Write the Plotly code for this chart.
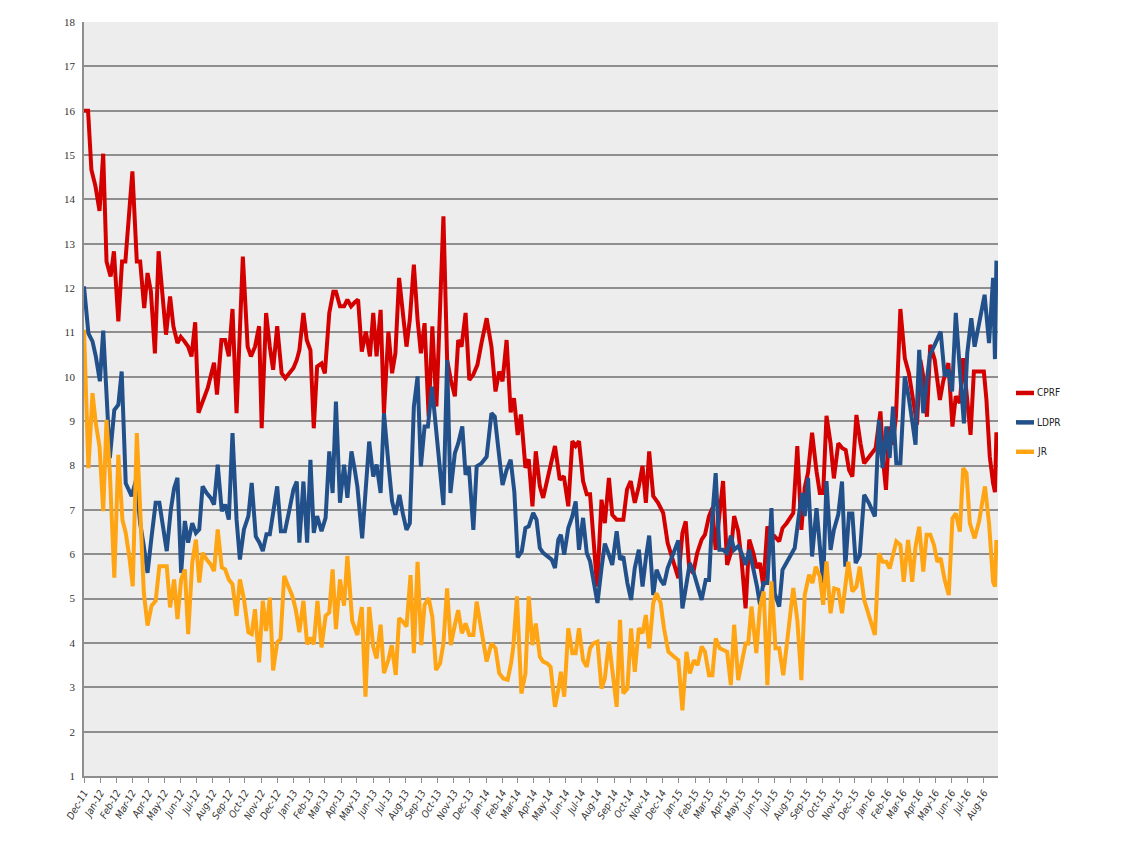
import numpy as np
import pandas as pd
import plotly.graph_objects as go

# Weekly poll series, Dec-2011 .. Aug-2016. x = weeks since the first poll.
START = pd.Timestamp("2011-12-01")

cprf_week = [0, 1.1, 2.0, 3.1, 4.2, 5.2, 6.1, 7.2, 8.1, 9.3, 10.3, 11.2, 13.1, 14.3, 15.2, 16.3, 17.2, 18.1, 19.2, 20.2,
             21.2, 22.2, 23.3, 24.2, 25.3, 26.2, 27.2, 28.2, 29.1, 30.1, 31.0, 33.5, 35.2, 36.0, 37.2, 38.2, 39.2, 40.2,
             41.3, 43.0, 44.3, 45.2, 46.3, 47.4, 48.1, 49.3, 50.3, 51.2, 52.3, 53.5, 54.5, 55.6, 56.7, 57.6, 58.3, 59.4,
             60.3, 61.3, 62.2, 63.1, 64.3, 65.2, 66.4, 67.5, 68.2, 69.3, 70.4, 71.3, 72.3, 73.3, 74.2, 75.2, 76.3, 77.4,
             78.3, 79.2, 80.3, 81.2, 82.4, 83.4, 84.3, 85.3, 86.3, 87.3, 88.2, 89.3, 90.3, 91.2, 92.2, 93.3, 94.3, 95.4,
             97.3, 98.3, 99.3, 100.4, 101.3, 102.2, 103.3, 104.3, 105.4, 106.5, 107.6, 109.0, 110.3, 111.4, 112.4,
             113.3, 114.4, 115.5, 116.4, 117.4, 118.3, 119.5, 120.4, 121.4, 122.3, 123.4, 124.3, 125.4, 127.5, 128.8,
             129.9, 131.1, 132.2, 133.1, 134.0, 135.1, 136.1, 137.0, 138.9, 140.1, 141.0, 142.1, 143.0, 144.2, 146.0,
             147.0, 148.0, 149.1, 150.2, 151.2, 152.1, 153.0, 154.1, 155.4, 156.8, 158.0, 159.6, 160.9, 162.0, 162.9,
             163.8, 164.9, 166.0, 167.2, 168.1, 169.2, 170.1, 171.0, 173.0, 174.1, 175.1, 176.0, 177.1, 178.0, 179.1,
             180.1, 181.2, 182.1, 183.0, 183.9, 185.0, 186.1, 187.0, 188.2, 189.1, 190.2, 192.0, 193.1, 194.2, 195.1,
             196.0, 197.1, 198.3, 199.2, 200.1, 201.0, 202.1, 203.0, 204.2, 205.3, 206.2, 207.1, 208.0, 209.1, 210.2,
             211.2, 212.3, 213.2, 214.3, 215.6, 216.4, 217.1, 218.0, 218.9, 219.8, 221.0, 222.2, 223.3, 224.5, 225.5,
             226.4, 227.3, 228.2, 229.1, 230.3, 231.7, 232.6, 234.0, 235.1, 236.0, 237.1, 238.0, 239.1, 240.0, 240.9,
             243.6, 244.3, 245.2, 246.1, 246.6, 247.0]
cprf = [16.0, 16.0, 14.67, 14.3, 13.74, 15.03, 12.6, 12.26, 12.83, 11.25, 12.6, 12.6, 14.63, 12.6, 12.6, 11.55, 12.34,
        11.93, 10.53, 12.83, 11.89, 10.95, 11.81, 11.14, 10.76, 10.9, 10.8, 10.68, 10.46, 11.23, 9.19, 9.75, 10.32, 9.6,
        10.83, 10.83, 10.46, 11.53, 9.18, 12.71, 10.68, 10.46, 10.68, 11.14, 8.84, 11.44, 10.68, 10.16, 11.14, 10.08,
        9.97, 10.08, 10.2, 10.38, 10.6, 11.44, 10.83, 10.6, 8.84, 10.23, 10.3, 10.08, 11.44, 11.92, 11.92, 11.59, 11.59,
        11.74, 11.59, 11.68, 11.74, 10.57, 11.02, 10.46, 11.44, 10.46, 11.51, 9.18, 11.02, 10.08, 10.53, 12.23, 11.51,
        10.68, 11.29, 12.53, 11.29, 10.53, 11.21, 9.1, 11.14, 9.33, 13.62, 10.38, 9.93, 9.56, 10.83, 10.68, 11.44, 9.93,
        10.05, 10.27, 10.76, 11.32, 10.68, 9.67, 10.12, 9.9, 10.83, 9.2, 9.52, 8.69, 9.15, 7.95, 8.14, 7.08, 8.32, 7.53,
        7.27, 7.68, 8.44, 7.68, 7.76, 7.08, 8.55, 8.44, 8.55, 7.65, 7.35, 7.35, 5.27, 7.23, 6.7, 7.72, 6.89, 6.78, 6.78,
        7.46, 7.65, 7.16, 7.53, 7.99, 7.16, 8.32, 7.31, 7.16, 6.93, 6.25, 5.8, 5.46, 6.48, 6.74, 5.72, 5.57, 6.03, 6.33,
        6.44, 6.86, 7.04, 6.1, 7.65, 5.76, 6.03, 6.86, 6.52, 5.88, 4.78, 6.33, 6.03, 5.69, 5.8, 5.27, 6.63, 6.33, 6.4,
        6.29, 6.59, 6.7, 6.93, 8.44, 6.55, 7.5, 7.84, 8.74, 7.87, 7.38, 7.38, 9.12, 8.5, 7.71, 8.5, 8.39, 8.35, 7.9,
        7.75, 9.14, 8.5, 8.05, 8.17, 8.28, 8.39, 9.22, 8.05, 7.45, 8.88, 8.47, 9.1, 11.53, 10.42, 10.08, 9.48, 8.92,
        10.38, 9.97, 9.1, 10.72, 10.38, 9.48, 9.9, 10.31, 8.88, 9.56, 9.41, 10.42, 9.48, 8.69, 10.12, 10.12, 9.48, 8.2,
        7.6, 7.4, 8.75]

ldpr_week = [0, 1.2, 2.3, 3.2, 4.3, 5.2, 7.0, 8.2, 9.3, 10.2, 11.3, 12.9, 14.1, 15.2, 16.2, 17.2, 18.3, 19.4, 20.4,
             21.5, 22.4, 23.5, 24.4, 25.3, 26.3, 27.3, 28.2, 29.3, 30.3, 31.2, 32.1, 33.2, 34.3, 35.2, 36.2, 37.3, 38.2,
             39.2, 40.2, 41.3, 42.2, 43.3, 44.5, 45.4, 46.5, 47.5, 48.4, 49.4, 50.3, 51.2, 52.3, 53.3, 54.4, 55.6, 56.7,
             57.6, 58.3, 59.4, 60.4, 61.3, 62.2, 63.1, 64.3, 65.4, 66.4, 67.3, 68.2, 69.3, 70.4, 71.3, 72.4, 73.3, 74.0,
             75.3, 76.3, 77.2, 78.3, 79.2, 80.3, 81.2, 82.4, 83.4, 84.3, 85.4, 86.3, 87.3, 88.2, 89.3, 90.3, 91.2, 92.2,
             93.1, 94.2, 95.3, 96.2, 97.3, 98.3, 99.2, 100.4, 101.3, 102.4, 103.3, 104.2, 105.4, 106.3, 107.6, 109.0,
             110.3, 111.2, 112.3, 113.3, 114.4, 115.5, 116.5, 117.4, 118.5, 119.5, 120.4, 121.6, 122.5, 123.4, 124.3,
             125.4, 126.6, 127.5, 128.4, 129.1, 130.0, 131.1, 132.2, 133.1, 134.0, 135.1, 136.1, 137.0, 138.0, 139.0,
             140.1, 141.0, 142.1, 143.0, 144.2, 145.1, 146.0, 147.1, 148.1, 149.1, 150.2, 151.2, 152.1, 153.0, 154.1,
             155.0, 156.1, 157.0, 158.0, 159.6, 160.9, 162.0, 163.1, 164.0, 165.1, 166.1, 167.2, 168.3, 169.2, 170.1,
             171.0, 172.0, 173.0, 174.1, 175.1, 176.0, 177.1, 178.0, 179.1, 180.1, 181.2, 182.2, 183.0, 183.9, 185.0,
             186.1, 187.0, 188.2, 189.1, 190.2, 191.3, 192.4, 193.5, 194.4, 195.1, 196.0, 197.1, 198.3, 199.2, 200.1,
             201.0, 202.1, 203.0, 204.2, 205.2, 206.1, 207.1, 208.0, 208.9, 210.0, 211.2, 212.5, 214.1, 215.2, 216.2,
             217.2, 218.1, 219.0, 219.9, 221.0, 222.2, 223.3, 224.3, 225.1, 226.1, 227.2, 228.1, 229.0, 230.3, 231.9,
             233.0, 233.9, 235.0, 236.0, 237.1, 238.2, 239.1, 240.2, 241.1, 242.2, 243.8, 245.0, 246.1, 246.6, 247.0]
ldpr = [12.04, 10.98, 10.8, 10.46, 9.9, 11.04, 8.17, 9.25, 9.37, 10.12, 7.6, 7.31, 7.68, 6.7, 6.18, 5.58, 6.4, 7.16,
        7.16, 6.63, 6.07, 7.0, 7.49, 7.72, 5.58, 6.75, 6.26, 6.7, 6.48, 6.56, 7.53, 7.38, 7.27, 7.12, 8.02, 6.97, 7.12,
        6.78, 8.73, 6.78, 5.88, 6.56, 6.86, 7.61, 6.4, 6.26, 6.07, 6.45, 6.45, 6.93, 7.53, 6.52, 6.52, 7.0, 7.46, 7.64,
        6.26, 7.64, 6.26, 8.13, 6.48, 6.86, 6.52, 6.82, 8.32, 7.38, 9.44, 7.16, 8.02, 7.27, 8.32, 7.9, 7.53, 6.36, 7.38,
        8.54, 7.75, 8.02, 7.38, 9.18, 8.05, 7.19, 6.89, 7.34, 6.92, 6.55, 6.7, 9.33, 10.01, 7.98, 8.88, 8.88, 9.78, 8.73,
        8.05, 7.11, 10.38, 7.38, 8.28, 8.5, 8.88, 7.79, 7.98, 6.55, 7.98, 8.05, 8.2, 9.18, 9.1, 8.28, 7.56, 7.9, 8.13,
        7.4, 5.93, 6.06, 6.59, 6.63, 6.93, 6.78, 6.14, 6.03, 5.95, 5.88, 5.69, 6.33, 6.44, 5.99, 6.59, 6.86, 7.19, 6.1,
        6.82, 6.03, 5.84, 5.35, 4.9, 5.69, 6.24, 5.99, 5.76, 6.52, 5.88, 5.95, 5.35, 4.97, 5.69, 6.1, 5.27, 5.91, 6.42,
        5.08, 5.65, 5.42, 5.31, 5.69, 6.05, 6.31, 4.78, 5.42, 5.8, 5.57, 5.31, 4.97, 5.42, 5.42, 6.86, 7.83, 6.1, 6.1,
        6.03, 6.42, 6.1, 6.18, 6.03, 5.76, 6.1, 5.69, 5.27, 4.86, 5.35, 5.35, 7.04, 5.12, 4.82, 5.65, 5.8, 5.95, 6.14,
        6.86, 7.38, 6.86, 7.72, 5.95, 7.04, 6.18, 5.35, 7.65, 6.1, 6.55, 6.9, 7.64, 5.72, 6.92, 6.92, 5.8, 5.98, 7.34,
        7.15, 6.85, 9.03, 7.94, 8.88, 8.17, 9.33, 8.05, 8.05, 10.01, 9.52, 8.95, 8.47, 10.61, 9.18, 9.86, 10.5, 10.72,
        11.02, 10.01, 10.16, 9.67, 11.44, 10.16, 8.95, 10.53, 11.32, 10.68, 11.14, 11.85, 10.76, 12.23, 10.4, 12.62]

jr_week = [0, 1.2, 2.3, 3.2, 4.2, 5.2, 6.1, 7.0, 8.2, 9.3, 10.4, 11.3, 12.3, 13.2, 14.3, 15.2, 16.2, 17.2, 18.3, 19.4,
           20.4, 21.5, 22.4, 23.3, 24.4, 25.3, 26.3, 27.3, 28.2, 29.3, 30.3, 31.2, 32.1, 33.2, 34.3, 35.2, 36.2, 37.3,
           38.2, 39.2, 40.2, 41.3, 42.2, 43.3, 44.5, 45.4, 46.3, 47.4, 48.4, 49.3, 50.3, 51.2, 52.3, 53.2, 54.2, 55.3,
           56.4, 57.3, 58.3, 59.4, 60.4, 61.3, 62.2, 63.2, 64.3, 65.4, 66.4, 67.3, 68.2, 69.3, 70.4, 71.3, 72.6, 74.0,
           75.2, 76.2, 77.2, 78.3, 79.2, 80.3, 81.2, 82.4, 83.3, 84.4, 85.3, 86.3, 87.3, 88.4, 89.3, 90.3, 91.3, 92.2,
           93.3, 94.3, 95.3, 96.4, 97.3, 98.3, 99.3, 100.4, 101.3, 102.3, 103.3, 104.3, 105.4, 106.3, 107.6, 109.0,
           110.3, 111.4, 112.4, 113.5, 114.7, 115.6, 116.2, 117.2, 118.4, 119.5, 120.4, 121.4, 122.3, 123.4, 124.3,
           125.4, 126.3, 127.5, 128.4, 129.1, 130.0, 131.1, 132.2, 133.1, 134.0, 135.1, 136.1, 137.0, 137.9, 139.0,
           140.1, 141.0, 142.1, 143.0, 144.2, 145.1, 146.0, 147.1, 148.1, 149.1, 150.2, 151.2, 152.1, 153.0, 154.1,
           155.0, 156.1, 157.0, 158.2, 159.6, 160.9, 162.0, 163.1, 164.0, 165.1, 166.1, 167.2, 168.1, 169.2, 170.1,
           171.0, 172.1, 173.0, 174.1, 175.1, 176.0, 177.1, 178.0, 179.1, 179.8, 180.7, 182.0, 183.0, 184.0, 185.0,
           186.1, 187.2, 188.2, 189.3, 190.4, 192.0, 193.1, 194.2, 195.1, 196.3, 197.2, 198.1, 199.2, 200.1, 201.0,
           202.1, 203.1, 204.2, 205.2, 206.1, 206.9, 208.0, 209.1, 210.0, 211.2, 212.7, 214.1, 215.2, 216.2, 217.2,
           218.1, 219.0, 219.9, 221.0, 221.9, 223.1, 224.2, 225.1, 226.1, 227.2, 228.1, 229.1, 230.1, 231.0, 231.9,
           233.0, 234.1, 235.1, 236.0, 237.1, 238.0, 238.9, 239.8, 241.1, 242.3, 243.9, 245.0, 246.1, 246.6, 247.0]
jr = [11.06, 7.94, 9.63, 8.95, 8.43, 6.97, 9.03, 7.83, 5.47, 8.24, 6.78, 6.48, 5.92, 5.28, 8.73, 6.93, 5.13, 4.39, 4.84,
      4.95, 5.73, 5.73, 5.73, 4.8, 5.43, 4.54, 5.43, 5.66, 4.2, 5.81, 6.33, 5.36, 6.03, 5.88, 5.77, 5.62, 6.56, 5.7,
      5.66, 5.43, 5.32, 4.61, 5.43, 4.99, 4.24, 4.2, 4.76, 3.56, 4.95, 4.27, 5.02, 3.38, 4.01, 4.09, 5.51, 5.28, 5.06,
      4.76, 4.24, 4.95, 3.97, 4.12, 3.97, 4.95, 3.9, 4.61, 4.69, 5.66, 4.31, 5.43, 4.84, 5.96, 4.5, 4.18, 4.81, 2.79,
      4.81, 3.91, 3.65, 4.41, 3.32, 3.62, 3.95, 3.28, 4.56, 4.48, 4.37, 5.53, 3.77, 5.83, 3.95, 4.86, 5.01, 4.59, 3.39,
      3.54, 3.99, 5.23, 3.95, 4.41, 4.74, 4.22, 4.44, 4.18, 4.18, 4.93, 4.29, 3.58, 3.99, 3.88, 3.32, 3.2, 3.17, 3.54,
      3.9, 5.05, 2.86, 3.31, 5.05, 3.95, 4.44, 3.69, 3.58, 3.54, 3.46, 2.56, 2.94, 3.35, 2.79, 4.33, 3.77, 3.77, 4.33,
      3.61, 3.46, 3.88, 3.99, 4.03, 2.97, 3.2, 4.03, 3.31, 2.56, 4.52, 2.86, 2.97, 4.33, 3.35, 4.33, 4.22, 4.63, 3.88,
      4.9, 5.12, 4.9, 4.33, 3.8, 3.7, 3.61, 2.48, 3.8, 3.31, 3.61, 3.5, 3.92, 3.8, 3.27, 3.27, 4.1, 3.88, 3.84, 3.8,
      3.05, 4.41, 3.16, 3.58, 3.99, 3.99, 4.82, 3.77, 4.82, 5.16, 3.05, 5.39, 3.88, 3.88, 3.27, 4.07, 5.24, 4.52, 3.16,
      5.08, 5.54, 5.35, 5.72, 5.5, 4.86, 5.84, 4.67, 5.23, 5.2, 4.67, 5.27, 5.83, 5.16, 5.27, 5.72, 4.97, 4.56, 4.18,
      6.02, 5.83, 5.83, 5.68, 5.98, 6.29, 6.21, 5.38, 6.32, 5.38, 6.17, 6.62, 5.61, 6.44, 6.44, 6.21, 5.83, 5.91, 5.42,
      5.08, 6.81, 6.92, 6.51, 7.94, 7.83, 6.7, 6.36, 6.74, 7.53, 6.7, 5.38, 5.27, 6.32]

SERIES = [
    ("CPRF", cprf_week, cprf, "#D40000"),
    ("LDPR", ldpr_week, ldpr, "#22508A"),
    ("JR", jr_week, jr, "#FFA412"),
]

# month labels Dec-11 .. Aug-16
month_ticks = pd.date_range("2011-12-01", "2016-08-01", freq="MS")

# page body has an 8px margin, so the figure is drawn a bit smaller
FIG_W, FIG_H = 1113, 846


def to_dates(weeks):
    return START + pd.to_timedelta(np.array(weeks) * 7, unit="D")


def build_figure():
    fig = go.Figure()
    for name, weeks, vals, color in SERIES:
        fig.add_trace(go.Scatter(
            x=to_dates(weeks), y=vals, name=name, mode="lines",
            line=dict(color=color, width=4),
            showlegend=False,
        ))

    # Excel-style legend to the right: short thick swatch + small label
    for k, (name, _, _, color) in enumerate(SERIES):
        ly = 0.508 - k * 0.039
        fig.add_shape(type="line", xref="paper", yref="paper",
                      x0=1.0197, x1=1.0394, y0=ly, y1=ly,
                      line=dict(color=color, width=4.5))
        fig.add_annotation(xref="paper", yref="paper", x=1.0405, y=ly,
                           xanchor="left", yanchor="middle", showarrow=False,
                           text=name, font=dict(family="DejaVu Sans Condensed", size=10, color="#222222"))

    grid = "#8E8E8E"

    fig.update_layout(
        width=FIG_W, height=FIG_H,
        margin=dict(l=76, r=123, t=14, b=78, autoexpand=False),
        paper_bgcolor="white",
        plot_bgcolor="#EDEDED",
        showlegend=False,
        xaxis=dict(
            type="date",
            range=[pd.Timestamp("2011-12-01"), pd.Timestamp("2016-08-28")],
            tickvals=month_ticks, tickformat="%b-%y", tickangle=-60,
            tickfont=dict(family="DejaVu Sans Condensed", size=10, color="#333333", style="italic"),
            ticks="outside", ticklen=5, tickcolor=grid,
            showgrid=False, showline=True, linecolor=grid, linewidth=2,
            zeroline=False,
        ),
        yaxis=dict(
            range=[1, 18], dtick=1, tick0=1,
            tickfont=dict(family="Liberation Sans Narrow", size=11, color="#333333"),
            ticklabelstandoff=5,
            showgrid=True, gridcolor=grid, gridwidth=1.5,
            showline=True, linecolor=grid, linewidth=1.5,
            ticks="", zeroline=False,
        ),
    )
    return fig


if __name__ == "__main__":
    fig = build_figure()
    fig.write_html("out.html")
